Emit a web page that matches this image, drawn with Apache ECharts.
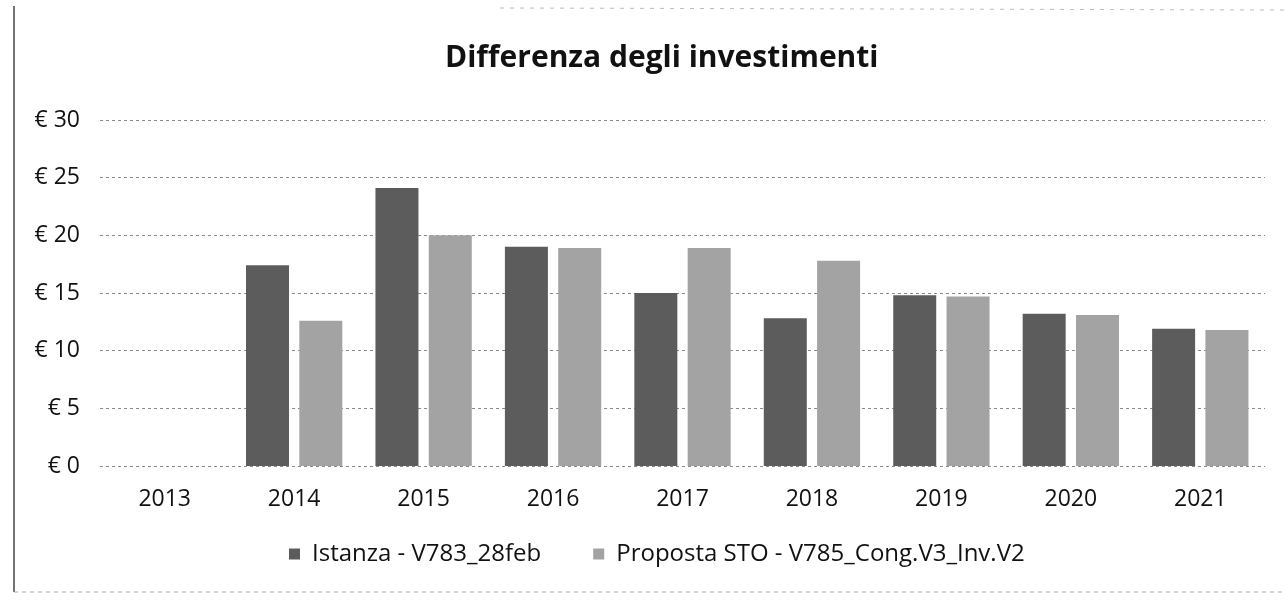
<!DOCTYPE html>
<html>
<head>
<meta charset="utf-8">
<script src="https://cdn.jsdelivr.net/npm/echarts@6/dist/echarts.min.js"></script>
<style>
  html, body { margin: 0; padding: 0; background: #fff; }
  #chart { width: 1285px; height: 603px; }
</style>
</head>
<body>
<div id="chart"></div>
<script>
// anni
var years = ['2013', '2014', '2015', '2016', '2017', '2018', '2019', '2020', '2021'];
// serie (milioni di euro)
var istanza = [0, 17.4, 24.1, 19.0, 15.0, 12.8, 14.8, 13.2, 11.9];
var proposta = [0, 12.6, 20.0, 18.9, 18.9, 17.8, 14.7, 13.1, 11.8];
var seriesNames = ['Istanza - V783_28feb', 'Proposta STO - V785_Cong.V3_Inv.V2'];
var yTicks = [0, 5, 10, 15, 20, 25, 30];

var font = '"Open Sans", "Liberation Sans", sans-serif';
var chart = echarts.init(document.getElementById('chart'));
chart.setOption({
  backgroundColor: '#fff',
  animation: false,
  title: {
    text: 'Differenza degli investimenti',
    left: 440,
    top: 38,
    textStyle: { fontFamily: font, fontSize: 30, fontWeight: 'bold', color: '#111' }
  },
  legend: {
    data: seriesNames,
    left: 284,
    top: 537,
    icon: 'rect',
    itemWidth: 11,
    itemHeight: 11,
    itemGap: 52,
    textStyle: { fontFamily: font, fontSize: 24, color: '#111', padding: [0, 0, 0, 7] }
  },
  grid: { left: 100, right: 20, top: 120, bottom: 137 },
  xAxis: {
    type: 'category',
    data: years,
    axisLine: { show: false },
    axisTick: { show: false },
    axisLabel: { margin: 22, fontFamily: font, fontSize: 23, color: '#111' }
  },
  yAxis: {
    type: 'value',
    min: yTicks[0],
    max: yTicks[yTicks.length - 1],
    interval: 5,
    axisLine: { show: false },
    axisTick: { show: false },
    axisLabel: {
      margin: 20,
      fontFamily: font,
      fontSize: 23,
      color: '#111',
      formatter: function (v) { return '€ ' + v; }
    },
    splitLine: { lineStyle: { color: '#8a8a8a', type: [3, 3], width: 1 } }
  },
  series: [{
    name: seriesNames[0],
    type: 'bar',
    data: istanza,
    barWidth: 43,
    barGap: '24%',
    itemStyle: { color: '#5c5c5c' }
  }, {
    name: seriesNames[1],
    type: 'bar',
    data: proposta,
    barWidth: 43,
    itemStyle: { color: '#a3a3a3' }
  }],
  graphic: [
    { type: 'line', shape: { x1: 14, y1: 6, x2: 14, y2: 592 }, style: { stroke: '#444', lineWidth: 1.5 } },
    { type: 'line', shape: { x1: 14, y1: 592, x2: 1285, y2: 592 }, style: { stroke: '#aaa', lineWidth: 1, lineDash: [4, 4] } },
    { type: 'line', shape: { x1: 500, y1: 8, x2: 1285, y2: 10 }, style: { stroke: '#bbb', lineWidth: 1, lineDash: [4, 6] } }
  ]
});
</script>
</body>
</html>
